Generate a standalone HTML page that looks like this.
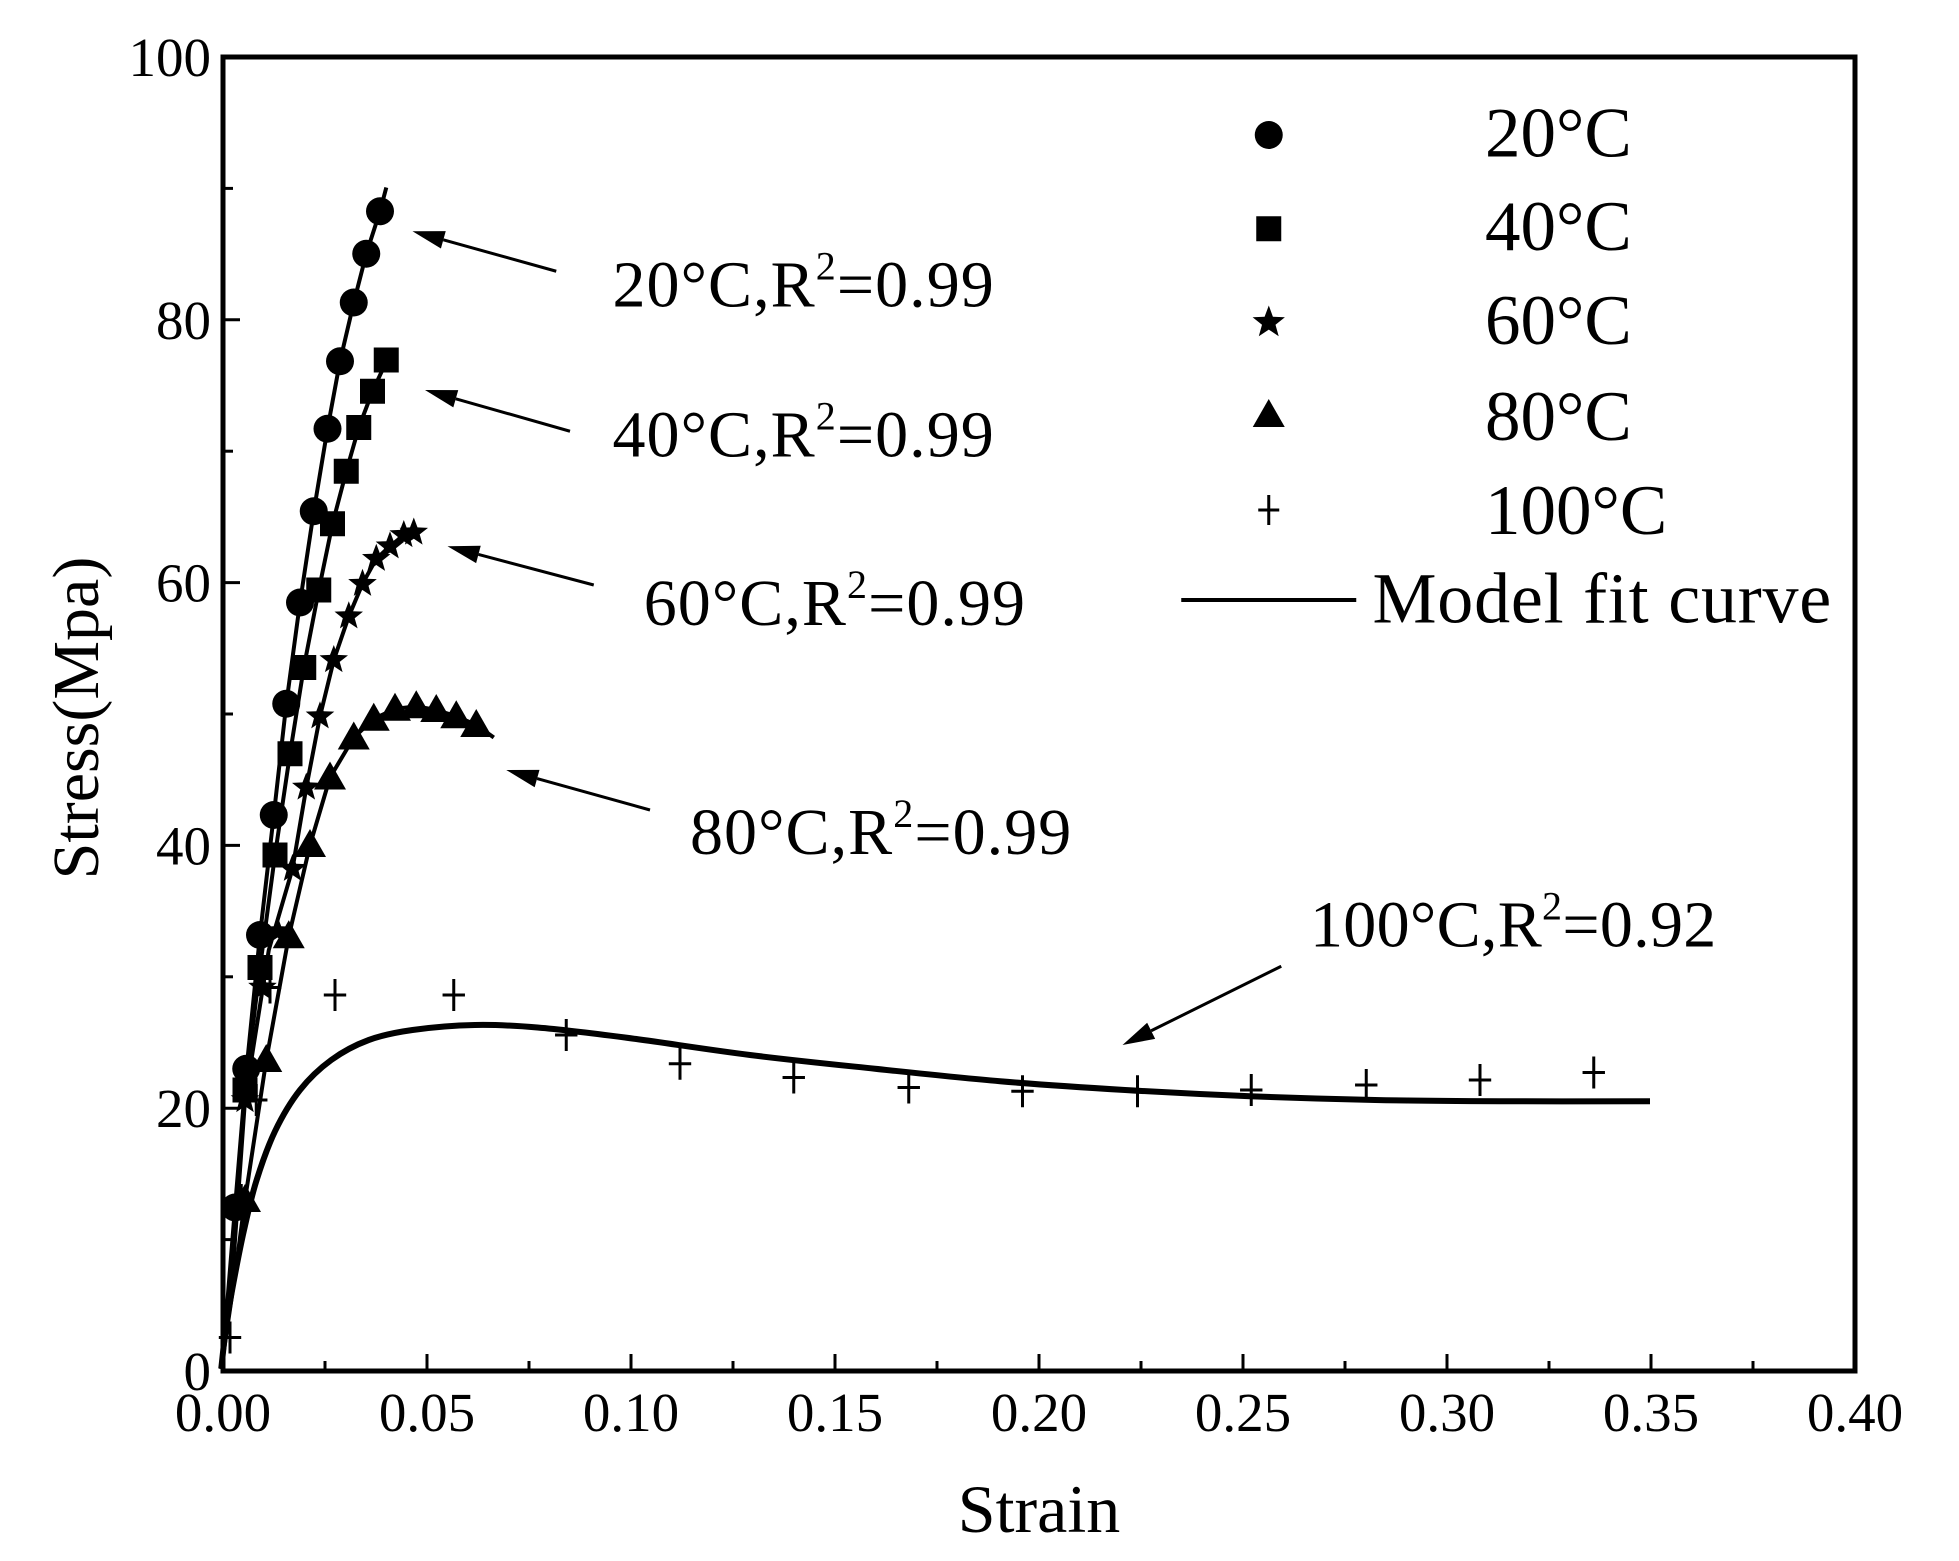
<!DOCTYPE html>
<html><head><meta charset="utf-8"><style>
html,body{margin:0;padding:0;background:#fff;}
svg{display:block;}
text{font-family:"Liberation Serif",serif;fill:#000;}
</style></head><body>
<svg id="s" width="1959" height="1561" viewBox="0 0 1959 1561" xmlns="http://www.w3.org/2000/svg"></svg>
<script>
const S=document.getElementById('s');
const X0=223,X1=1855,Y0=1371,Y1=57;
const fx=v=>X0+(X1-X0)*v/0.4, fy=v=>Y0+(Y1-Y0)*v/100;
const D=1.25;const dx=x=>x*D, dy=y=>y*D;
let h='';
function poly(pts,w){h+=`<polyline points="${pts.map(p=>dx(p[0]).toFixed(1)+','+dy(p[1]).toFixed(1)).join(' ')}" fill="none" stroke="#000" stroke-width="${w}" stroke-linejoin="round"/>`;}
function smooth(pts,w){let d='M'+dx(pts[0][0])+' '+dy(pts[0][1]);for(let i=0;i<pts.length-1;i++){let p0=pts[i-1]||pts[i],p1=pts[i],p2=pts[i+1],p3=pts[i+2]||p2;
let c1=[p1[0]+(p2[0]-p0[0])/6,p1[1]+(p2[1]-p0[1])/6],c2=[p2[0]-(p3[0]-p1[0])/6,p2[1]-(p3[1]-p1[1])/6];
d+=`C${dx(c1[0])} ${dy(c1[1])} ${dx(c2[0])} ${dy(c2[1])} ${dx(p2[0])} ${dy(p2[1])}`;}
h+=`<path d="${d}" fill="none" stroke="#000" stroke-width="${w}"/>`;}
poly([[177,1095],[182,1040],[188,966],[197,857],[208,748],[219,652],[229,563],[240,482],[251,409],[262,343],[272,289],[283,242],[293,203],[304,169],[309,150]],4);
poly([[177,1095],[185,1020],[196,872],[208,774],[220,684],[232,603],[243,534],[255,472],[266,419],[277,377],[287,342],[298,313],[311,285]],4);
poly([[177,1095],[186,1020],[196,880],[215,760],[234,695],[245,630],[256,573],[267,528],[279,493],[290,467],[301,447],[312,437],[323,428],[333,424]],4);
poly([[177,1095],[188,1020],[196,960],[213,848],[231,749],[248,676],[264,622],[283,590],[299,575],[316,567],[333,565],[349,568],[365,573],[381,580],[395,590]],4);
smooth([[177,1095],[181,1060],[187,1025],[195,985],[205,945],[220,905],[240,872],[265,848],[295,832],[330,824],[380,820],[430,822],[500,830],[600,844],[700,855],[800,865],[900,872],[1000,877],[1100,880],[1200,881],[1320,881]],6);
function circ(x,y){h+=`<circle cx="${dx(x)}" cy="${dy(y)}" r="14" fill="#000"/>`;}
function sq(x,y){h+=`<rect x="${dx(x)-12.5}" y="${dy(y)-12.5}" width="25" height="25" fill="#000"/>`;}
function star(x,y,r=15){let p=[];for(let i=0;i<10;i++){let a=-Math.PI/2+i*Math.PI/5,rr=i%2?r*0.42:r;p.push((dx(x)+rr*Math.cos(a)).toFixed(1)+','+(dy(y)+rr*Math.sin(a)).toFixed(1));}h+=`<polygon points="${p.join(' ')}" fill="#000"/>`;}
function tri(x,y){let X=dx(x),Y=dy(y);h+=`<polygon points="${X},${Y-16} ${X-16},${Y+12} ${X+16},${Y+12}" fill="#000"/>`;}
function plus(x,y,r=16){let X=dx(x),Y=dy(y);h+=`<path d="M${X-r*0.7} ${Y}H${X+r*0.7}M${X} ${Y-r}V${Y+r}" stroke="#000" stroke-width="3"/>`;}
[[188,966],[197,855],[208,748],[219,652],[229,563],[240,482],[251,409],[262,343],[272,289],[283,242],[293,203],[304,169]].forEach(p=>circ(...p));
[[196,872],[208,774],[220,684],[232,603],[243,534],[255,472],[266,419],[277,377],[287,342],[298,313],[309,288]].forEach(p=>sq(...p));
[[196,880],[210,790],[222,745],[234,695],[245,630],[256,573],[267,528],[279,493],[290,467],[301,447],[312,437],[323,428],[331,426]].forEach(p=>star(...p));
[[196,960],[213,848],[231,749],[248,676],[264,622],[283,590],[299,575],[316,567],[333,565],[349,568],[365,573],[381,580]].forEach(p=>tri(...p));
[[184,1070],[193,960],[205,880],[216,790],[268,796],[363,796],[453,828],[544,851],[635,862],[727,870],[818,873],[910,873],[1001,872],[1093,868],[1184,864],[1275,858]].forEach(p=>plus(...p));
function arrow(x1,y1,x2,y2){x1=dx(x1);y1=dy(y1);x2=dx(x2);y2=dy(y2);let a=Math.atan2(y2-y1,x2-x1),L=32,W=9;
let bx=x2-L*Math.cos(a),by=y2-L*Math.sin(a);
h+=`<line x1="${x1}" y1="${y1}" x2="${bx}" y2="${by}" stroke="#000" stroke-width="3"/>`;
h+=`<polygon points="${x2},${y2} ${bx+W*Math.sin(a)},${by-W*Math.cos(a)} ${bx-W*Math.sin(a)},${by+W*Math.cos(a)}" fill="#000"/>`;}
arrow(445,217,330,185);arrow(456,345,340,312);arrow(475,468,358,437);arrow(520,648,405,616);arrow(1025,773,898,836);
function ann(x,y,t,r,w){h+=`<text x="${dx(x)}" y="${dy(y)}" font-size="66" textLength="${dx(w)}">${t},R<tspan dy="-27" font-size="40">2</tspan><tspan dy="27">=${r}</tspan></text>`;}
ann(490,245,'20°C','0.99',305);ann(490,365,'40°C','0.99',305);ann(515,500,'60°C','0.99',305);ann(552,683,'80°C','0.99',305);ann(1048,757,'100°C','0.92',325);
circ(1015,108);sq(1015,183);star(1015,258,17);tri(1015,332);plus(1015,408,15);
[['20°C',125],['40°C',200],['60°C',275],['80°C',352],['100°C',427]].forEach(([t,y])=>h+=`<text x="${dx(1188)}" y="${dy(y)}" font-size="71">${t}</text>`);
h+=`<line x1="${dx(945)}" y1="${dy(480)}" x2="${dx(1085)}" y2="${dy(480)}" stroke="#000" stroke-width="4"/>`;
h+=`<text x="${dx(1098)}" y="${dy(498)}" font-size="72" textLength="${dx(367)}">Model fit curve</text>`;
for(let i=0;i<=16;i++){let x=fx(i*0.025),L=i%2?10:17;h+=`<line x1="${x}" y1="${Y0}" x2="${x}" y2="${Y0-L}" stroke="#000" stroke-width="3"/>`;
 if(i%2==0)h+=`<text x="${x}" y="${Y0+60}" font-size="55" text-anchor="middle">${(i*0.025).toFixed(2)}</text>`;}
for(let i=0;i<=10;i++){let y=fy(i*10),L=i%2?10:17;h+=`<line x1="${X0}" y1="${y}" x2="${X0+L}" y2="${y}" stroke="#000" stroke-width="3"/>`;
 if(i%2==0)h+=`<text x="${X0-12}" y="${y+19}" font-size="55" text-anchor="end">${i*10}</text>`;}
h+=`<rect x="${X0}" y="${Y1}" width="${X1-X0}" height="${Y0-Y1}" fill="none" stroke="#000" stroke-width="5"/>`;
h+=`<text x="${(X0+X1)/2}" y="1532" font-size="68" text-anchor="middle">Strain</text>`;
h+=`<text transform="translate(98,718) rotate(-90)" font-size="66" text-anchor="middle">Stress(Mpa)</text>`;
S.innerHTML=h;
</script>
</body></html>
